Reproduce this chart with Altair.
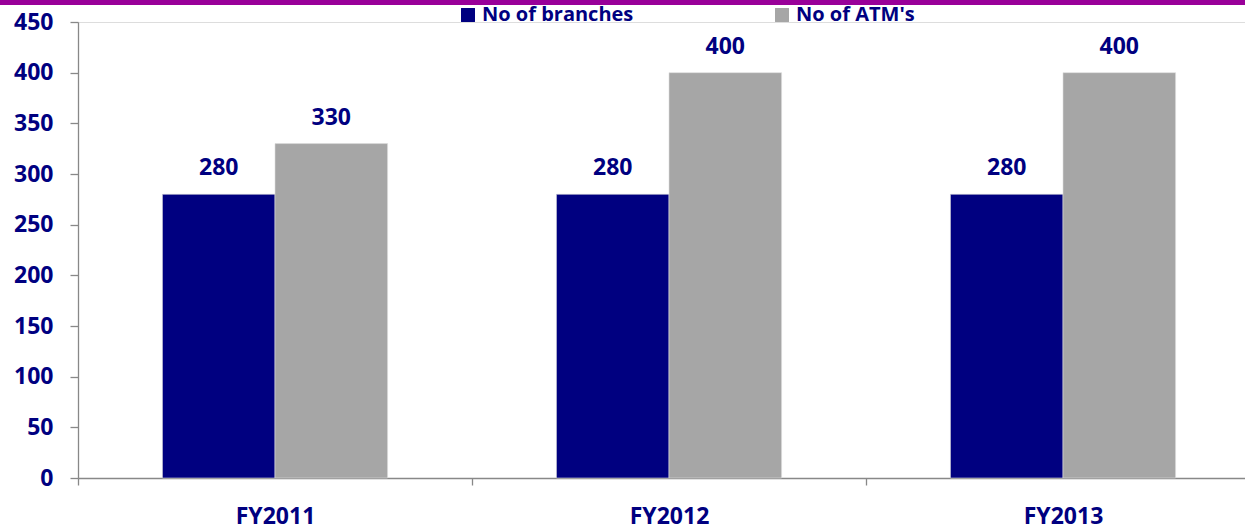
import altair as alt
import pandas as pd

years = ["FY2011", "FY2012", "FY2013"]
series_names = ["No of branches", "No of ATM's"]
branches = [280, 280, 280]
atms = [330, 400, 400]
y_ticks = [0, 50, 100, 150, 200, 250, 300, 350, 400, 450]

rows = []
for i, yr in enumerate(years):
    rows.append({"year": yr, "series": series_names[0], "value": branches[i]})
    rows.append({"year": yr, "series": series_names[1], "value": atms[i]})
df = pd.DataFrame(rows)

FONT = "Open Sans"
NAVY = "#000080"
AXIS_GRAY = "#888888"

x_enc = alt.X(
    "year:N",
    sort=years,
    scale=alt.Scale(range=[0, 1182], paddingInner=0, paddingOuter=0),
    axis=alt.Axis(
        title=None, labelAngle=0, tickBand="extent", grid=False,
        domainColor=AXIS_GRAY, tickColor=AXIS_GRAY, domainWidth=1.3, tickWidth=1.3,
        tickSize=7, labelPadding=20, labelFont=FONT, labelFontSize=23,
        labelFontWeight="bold", labelColor=NAVY,
    ),
)
y_enc = alt.Y(
    "value:Q",
    scale=alt.Scale(domain=[0, 450], nice=False),
    axis=alt.Axis(
        title=None, values=y_ticks, grid=False,
        domainColor=AXIS_GRAY, tickColor=AXIS_GRAY, domainWidth=1.3, tickWidth=1.3,
        tickSize=8, labelPadding=17, labelFont=FONT, labelFontSize=23,
        labelFontWeight="bold", labelColor=NAVY,
    ),
)
xoff = alt.XOffset("series:N", sort=series_names,
                   scale=alt.Scale(paddingOuter=0.75, paddingInner=0))

bars = alt.Chart(df).mark_bar(stroke="#DDDDDD", strokeWidth=0.6).encode(
    x=x_enc,
    y=y_enc,
    xOffset=xoff,
    color=alt.Color(
        "series:N",
        sort=series_names,
        scale=alt.Scale(domain=series_names, range=[NAVY, "#A6A6A6"]),
        legend=alt.Legend(
            title=None, orient="none", direction="horizontal",
            legendX=380, legendY=-17, symbolType="square", symbolSize=195,
            symbolStrokeWidth=0, labelFont=FONT, labelFontSize=20,
            labelFontWeight="bold", labelColor=NAVY, labelOffset=4,
            columnPadding=138, padding=0,
        ),
    ),
)

labels = alt.Chart(df).mark_text(
    font=FONT, fontSize=23, fontWeight="bold", color=NAVY,
    baseline="alphabetic", dy=-19,
).encode(
    x=alt.X("year:N", sort=years),
    y=alt.Y("value:Q"),
    xOffset=alt.XOffset("series:N", sort=series_names),
    text=alt.Text("value:Q"),
)

top_line = alt.Chart(pd.DataFrame({"a": [0]})).mark_rule(
    color="#990099", strokeWidth=5
).encode(x=alt.value(-78), x2=alt.value(1167), y=alt.value(-19.5))

chart = alt.layer(bars, labels, top_line).properties(
    width=1167,
    height=456,
    autosize=alt.AutoSizeParams(type="none"),
    padding={"left": 78, "top": 22, "right": 0, "bottom": 54},
).configure_view(stroke=None).configure(background="white")

chart.save("out.html", embed_options={"renderer": "svg", "actions": False})
